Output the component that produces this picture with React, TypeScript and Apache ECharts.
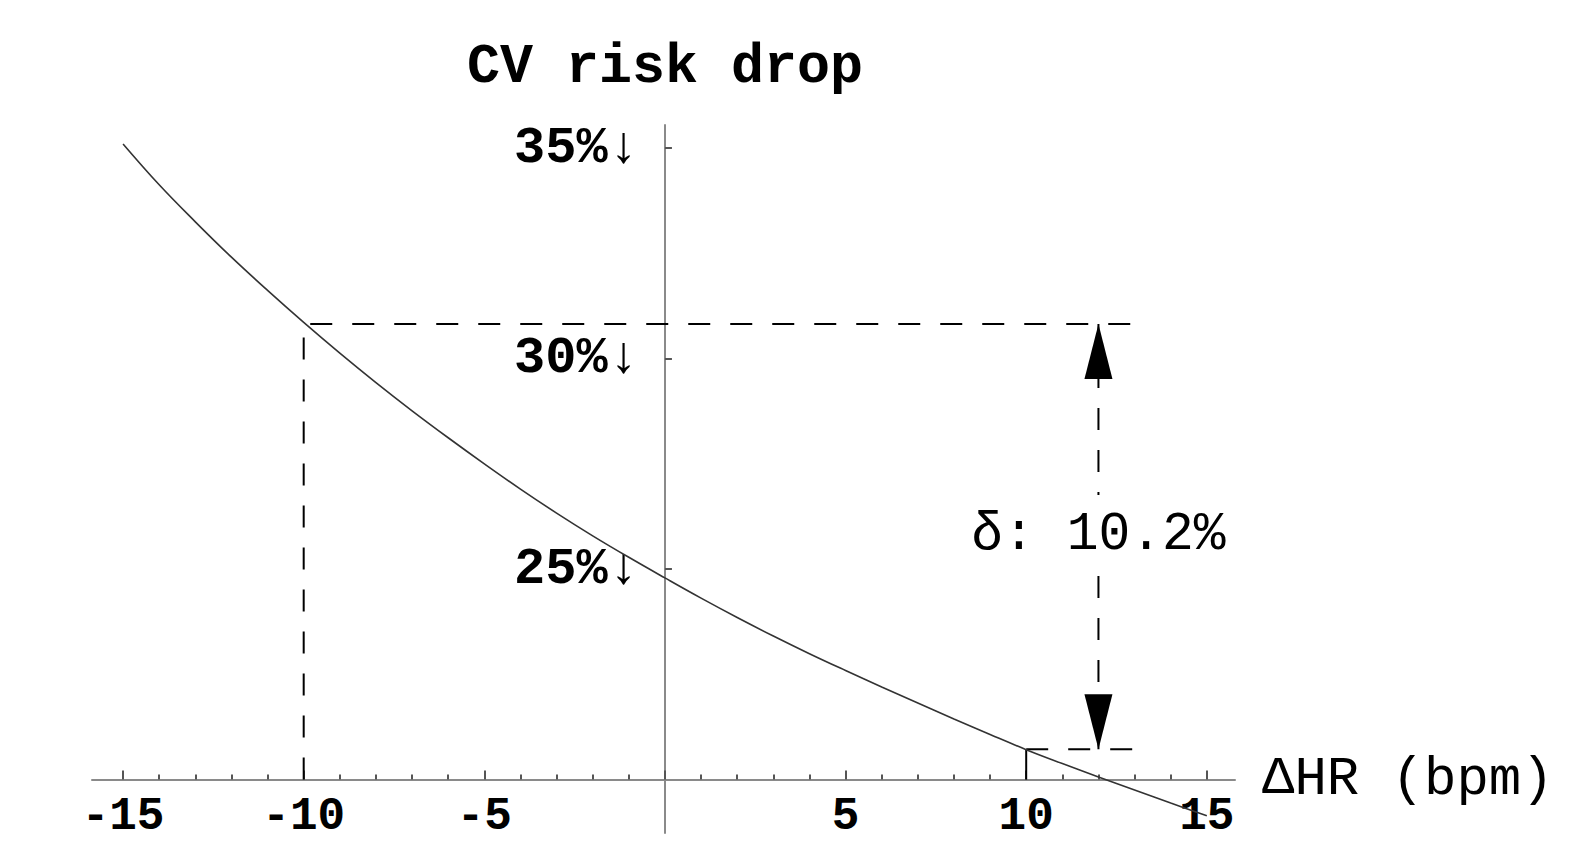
import React, { useEffect, useRef } from "react";
import * as echarts from "echarts";

// ---- data ----
const hrChange = [-15, -14, -13, -12, -11, -10, -9, -8, -7, -6, -5, -4, -3, -2, -1, 0, 1, 2, 3, 4, 5, 6, 7, 8, 9, 10, 11, 12, 13, 14, 15];
const riskDrop = [35.1, 34.13, 33.25, 32.41, 31.62, 30.86, 30.13, 29.43, 28.76, 28.12, 27.5, 26.9, 26.33, 25.79, 25.28, 24.79, 24.31, 23.85, 23.41, 22.99, 22.59, 22.2, 21.82, 21.44, 21.07, 20.71, 20.38, 20.06, 19.75, 19.44, 19.14];

const xMajorTicks = [-15, -10, -5, 0, 5, 10, 15];
const xMinorTicks = [-14, -13, -12, -11, -9, -8, -7, -6, -4, -3, -2, -1, 1, 2, 3, 4, 6, 7, 8, 9, 11, 12, 13, 14];
const xTickValues = [-15, -10, -5, 5, 10, 15];
const xTickLabels = ["-15", "-10", "-5", "5", "10", "15"];
const yTickValues = [25, 30, 35];
const yTickLabels = ["25%↓", "30%↓", "35%↓"];

const xAxisCross = 20; // y value where the HR axis crosses
const yAxisCross = 0; // x value where the risk axis crosses
const refLeftX = -10;
const refRightX = 10;
const refTop = 30.82;
const refBottom = 20.72;
const arrowX = 12;
const dashEndX = 13;
const deltaLabelY = 25.8;
const deltaLabel = "δ: 10.2%";
const yAxisTitle = "CV risk drop";
const xAxisTitle = "ΔHR (bpm)";

const X_MIN = -15.86;
const X_MAX = 15.78;
const Y_MIN = 18.73;
const Y_MAX = 35.55;

const FONT = "'Liberation Mono', 'DejaVu Sans Mono', monospace";

export default function App() {
  const ref = useRef<HTMLDivElement>(null);

  useEffect(() => {
    if (!ref.current) return;
    const chart = echarts.init(ref.current, null, { renderer: "svg" });
    const W = 1570;
    const H = 845;
    const gridLeft = 92;
    const gridRight = 335;
    const gridTop = 125;
    const gridBottom = 12;
    const gridH = H - gridTop - gridBottom;
    const gridW = W - gridLeft - gridRight;
    const xOffset = -(gridH * (xAxisCross - Y_MIN)) / (Y_MAX - Y_MIN);
    const yOffset = -(gridW * (yAxisCross - X_MIN)) / (X_MAX - X_MIN);

    const dashed = { color: "#000", width: 2, type: [22, 20] as any };

    const option: any = {
      animation: false,
      backgroundColor: "#fff",
      grid: { left: gridLeft, right: gridRight, top: gridTop, bottom: gridBottom, containLabel: false, outerBoundsMode: "none" },
      xAxis: [
        {
          type: "value",
          min: X_MIN,
          max: X_MAX,
          position: "bottom",
          offset: xOffset,
          splitLine: { show: false },
          axisLine: { show: true, onZero: false, lineStyle: { color: "#8a8a8a", width: 2 } },
          axisTick: { show: true, inside: true, length: 9, customValues: xMajorTicks, lineStyle: { color: "#555", width: 2 } },
          axisLabel: {
            show: true,
            customValues: xTickValues,
            formatter: (v: number) => xTickLabels[xTickValues.indexOf(v)] ?? "",
            margin: 18,
            lineHeight: 38,
            color: "#000",
            fontFamily: FONT,
            fontWeight: "bold",
            fontSize: 46,
          },
          name: xAxisTitle,
          nameLocation: "end",
          nameGap: 27,
          nameTextStyle: { fontFamily: FONT, fontSize: 54, color: "#000", align: "left", verticalAlign: "middle" },
        },
        {
          type: "value",
          min: X_MIN,
          max: X_MAX,
          position: "bottom",
          offset: xOffset,
          splitLine: { show: false },
          axisLine: { show: false, onZero: false },
          axisTick: { show: true, inside: true, length: 5, customValues: xMinorTicks, lineStyle: { color: "#555", width: 2 } },
          axisLabel: { show: false },
        },
      ],
      yAxis: {
        type: "value",
        min: Y_MIN,
        max: Y_MAX,
        position: "left",
        offset: yOffset,
        splitLine: { show: false },
        axisLine: { show: true, onZero: false, lineStyle: { color: "#8a8a8a", width: 2 } },
        axisTick: { show: true, inside: true, length: 7, customValues: yTickValues, lineStyle: { color: "#555", width: 2 } },
        axisLabel: {
          show: true,
          customValues: yTickValues,
          formatter: (v: number) => yTickLabels[yTickValues.indexOf(v)] ?? "",
          margin: 26,
          color: "#000",
          fontFamily: FONT,
          fontWeight: "bold",
          fontSize: 52,
        },
        name: yAxisTitle,
        nameLocation: "end",
        nameGap: 58,
        nameTextStyle: { fontFamily: FONT, fontSize: 55, fontWeight: "bold", color: "#000", align: "center", verticalAlign: "middle" },
      },
      series: [
        {
          type: "line",
          data: hrChange.map((x, i) => [x, riskDrop[i]]),
          smooth: 0.4,
          showSymbol: false,
          symbol: "none",
          lineStyle: { color: "#333", width: 1.6 },
          z: 5,
        },
        {
          type: "line",
          data: [[refLeftX, xAxisCross], [refLeftX, refTop], [dashEndX, refTop]],
          showSymbol: false,
          symbol: "none",
          lineStyle: dashed,
          z: 3,
        },
        {
          type: "line",
          data: [[refRightX, xAxisCross], [refRightX, refBottom]],
          showSymbol: false,
          symbol: "none",
          lineStyle: { color: "#000", width: 2 },
          z: 3,
        },
        {
          type: "line",
          data: [[refRightX, refBottom], [dashEndX, refBottom]],
          showSymbol: false,
          symbol: "none",
          lineStyle: dashed,
          z: 3,
        },
        {
          type: "line",
          data: [[arrowX, refTop], [arrowX, refBottom]],
          showSymbol: false,
          symbol: "none",
          lineStyle: dashed,
          z: 3,
        },
        {
          type: "scatter",
          data: [[arrowX, refTop]],
          symbol: "triangle",
          symbolSize: [28, 55],
          symbolOffset: [0, 27.5],
          itemStyle: { color: "#000", opacity: 1 },
          z: 6,
        },
        {
          type: "scatter",
          data: [[arrowX, refBottom]],
          symbol: "triangle",
          symbolSize: [28, 55],
          symbolRotate: 180,
          symbolOffset: [0, -27.5],
          itemStyle: { color: "#000", opacity: 1 },
          z: 6,
        },
        {
          type: "scatter",
          data: [[arrowX, deltaLabelY]],
          symbolSize: 0,
          itemStyle: { opacity: 1 },
          z: 7,
          label: {
            show: true,
            position: "inside",
            formatter: () => deltaLabel,
            fontFamily: FONT,
            fontSize: 53,
            color: "#000",
            opacity: 1,
            backgroundColor: "#fff",
            padding: [14, 2],
          },
        },
      ],
    };
    chart.setOption(option);
    return () => chart.dispose();
  }, []);

  return (
    <div
      ref={ref}
      style={{ position: "absolute", left: 0, top: 0, width: 1570, height: 845, background: "#fff" }}
    />
  );
}
